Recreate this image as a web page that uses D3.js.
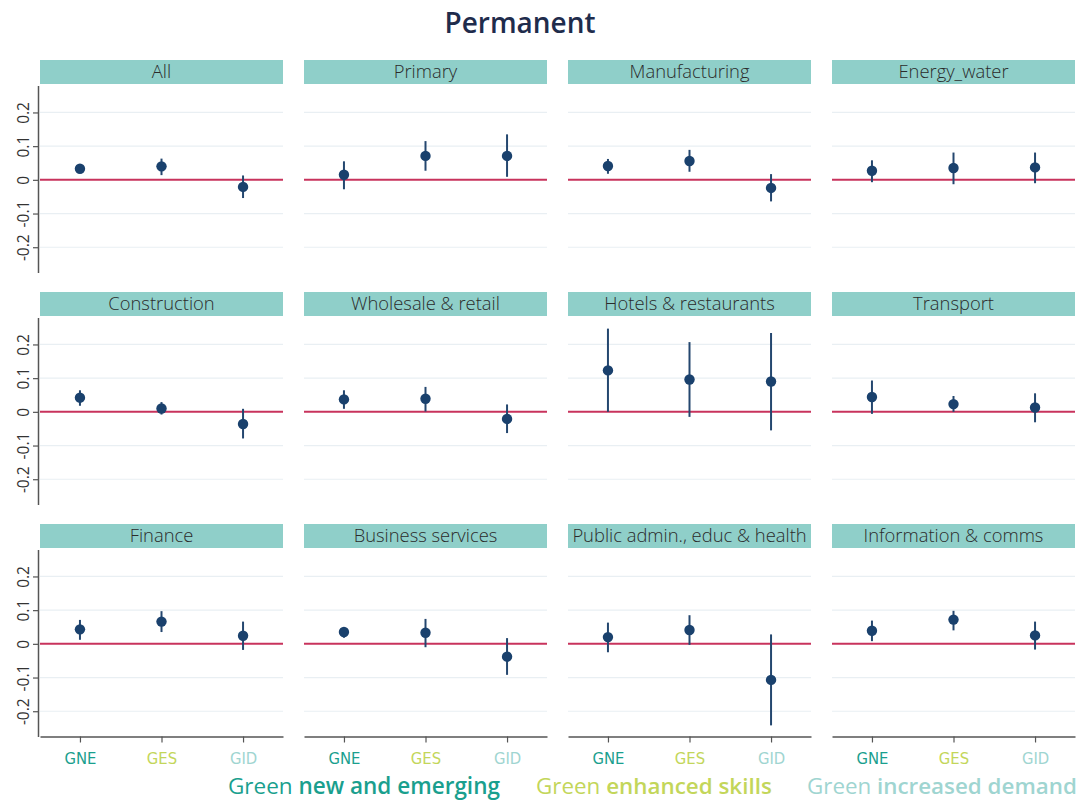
<!DOCTYPE html>
<html><head><meta charset="utf-8">
<script src="https://cdn.jsdelivr.net/npm/d3@7"></script>
<style>
body{margin:0;background:#fff;}
svg{display:block;font-family:"Open Sans",Lato,sans-serif;}
</style></head>
<body><svg id="c" width="1078" height="801"></svg>
<script>
const title = "Permanent";
const sectors = ["All","Primary","Manufacturing","Energy_water","Construction","Wholesale & retail","Hotels & restaurants","Transport","Finance","Business services","Public admin., educ & health","Information & comms"];
const groups = ["GNE","GES","GID"];
const groupColors = ["#1a9f8e","#c3d65a","#9fd5d1"];
const legendLead = ["Green","Green","Green"];
const legendRest = ["new and emerging","enhanced skills","increased demand"];
// point estimates per sector (GNE, GES, GID)
const est = [
 [0.033,0.040,-0.021],
 [0.015,0.071,0.071],
 [0.041,0.056,-0.024],
 [0.027,0.035,0.037],
 [0.042,0.010,-0.036],
 [0.037,0.039,-0.021],
 [0.123,0.096,0.090],
 [0.044,0.023,0.013],
 [0.043,0.066,0.024],
 [0.035,0.033,-0.038],
 [0.020,0.041,-0.107],
 [0.039,0.072,0.025]
];
const lower = [
 [0.025,0.014,-0.054],
 [-0.028,0.027,0.009],
 [0.018,0.024,-0.064],
 [-0.007,-0.013,-0.010],
 [0.018,-0.008,-0.079],
 [0.009,0.001,-0.063],
 [0.000,-0.015,-0.055],
 [-0.006,0.000,-0.031],
 [0.012,0.035,-0.018],
 [0.018,-0.010,-0.092],
 [-0.025,-0.003,-0.242],
 [0.008,0.040,-0.017]
];
const upper = [
 [0.041,0.063,0.013],
 [0.055,0.115,0.135],
 [0.062,0.089,0.017],
 [0.058,0.081,0.081],
 [0.064,0.029,0.009],
 [0.064,0.074,0.022],
 [0.247,0.207,0.234],
 [0.093,0.047,0.055],
 [0.071,0.097,0.066],
 [0.050,0.074,0.017],
 [0.063,0.085,0.028],
 [0.069,0.098,0.066]
];
const yTicks = [-0.2,-0.1,0,0.1,0.2];
const yTickLabels = ["-0.2","-0.1","0","0.1","0.2"];

const svg = d3.select("#c");
const nCol = 4, left0 = 40, colStep = 264, pw = 243;
const top0 = 85.5, rowStep = 232, ph = 187, hh = 24;

function fitSize(text, base, target, weight){
  const t = svg.append("text").attr("font-size",base).attr("font-weight",weight||400).text(text);
  const w = t.node().getComputedTextLength(); t.remove();
  return base*target/w;
}

const tSize = fitSize(title, 24, 151, 600);
svg.append("text").attr("x",520).attr("y",33).attr("text-anchor","middle")
  .attr("font-size",tSize).attr("font-weight",600).attr("fill","#1f2c4c").text(title);

const hSize = Math.min(18.5, fitSize("Public admin., educ & health", 16, 244, 400));

const x = d3.scalePoint().domain(groups).range([0,pw]).padding(0.49);
const y = d3.scaleLinear().domain([-0.275,0.28]).range([ph,0]);

sectors.forEach((s,i)=>{
  const c = i%nCol, r = Math.floor(i/nCol);
  const g = svg.append("g").attr("transform",`translate(${left0+c*colStep},${top0+r*rowStep})`);
  g.append("rect").attr("x",0).attr("y",-hh-1.5).attr("width",pw).attr("height",hh).attr("fill","#8fcfc9");
  g.append("text").attr("x",pw/2).attr("y",-hh-1.5+hh/2+6).attr("text-anchor","middle")
    .attr("font-size",hSize).attr("font-weight",300).attr("fill","#2b2b2b").text(s);
  g.selectAll("line.grid").data(yTicks.filter(t=>t!==0)).join("line").attr("class","grid")
    .attr("x1",0).attr("x2",pw).attr("y1",d=>y(d)).attr("y2",d=>y(d))
    .attr("stroke","#e9eff3").attr("stroke-width",1.2);
  g.append("line").attr("x1",0).attr("x2",pw).attr("y1",y(0)).attr("y2",y(0))
    .attr("stroke","#c8335c").attr("stroke-width",2);
  const data = groups.map((k,j)=>({k,e:est[i][j],lo:lower[i][j],hi:upper[i][j]}));
  g.selectAll("line.ci").data(data).join("line").attr("class","ci")
    .attr("x1",d=>x(d.k)).attr("x2",d=>x(d.k)).attr("y1",d=>y(d.lo)).attr("y2",d=>y(d.hi))
    .attr("stroke","#24476f").attr("stroke-width",2);
  g.selectAll("circle").data(data).join("circle")
    .attr("cx",d=>x(d.k)).attr("cy",d=>y(d.e)).attr("r",5.2).attr("fill","#1a416d");
  if(c===0){
    const ya = g.append("g").attr("transform","translate(-2,0)")
      .call(d3.axisLeft(y).tickValues(yTicks).tickFormat((d,k)=>yTickLabels[k]).tickSize(5).tickSizeOuter(0));
    ya.select(".domain").attr("stroke","#555").attr("stroke-width",1.5);
    ya.selectAll(".tick line").attr("stroke","#555").attr("stroke-width",1.2);
    ya.selectAll(".tick text").attr("font-size",15.5).attr("fill","#333")
      .attr("font-family","'Open Sans', sans-serif")
      .attr("transform","rotate(-90)").attr("x",0).attr("y",-9).attr("dy",0)
      .attr("text-anchor","middle");
  }
  if(r===2){
    const xa = g.append("g").attr("transform",`translate(0,${ph})`)
      .call(d3.axisBottom(x).tickSize(6).tickSizeOuter(0));
    xa.select(".domain").attr("stroke","#555").attr("stroke-width",1.5);
    xa.selectAll(".tick line").attr("stroke","#555").attr("stroke-width",1.2);
    xa.selectAll(".tick text").attr("font-size",16.5).attr("dy","1.15em")
      .attr("font-family","'Liberation Sans Narrow','DejaVu Sans Condensed',sans-serif")
      .attr("fill",(d,k)=>groupColors[k]);
  }
});

// legend
const legX = [228,536,807];
const legW = [272,236,270];
legendRest.forEach((t,k)=>{
  const tx = svg.append("text").attr("x",legX[k]).attr("y",794).attr("font-size",20).attr("fill",groupColors[k]);
  tx.append("tspan").text(legendLead[k]+" ");
  tx.append("tspan").attr("font-weight",600).text(t);
  const w = tx.node().getComputedTextLength();
  tx.attr("font-size",20*legW[k]/w);
});
</script>
</body></html>
